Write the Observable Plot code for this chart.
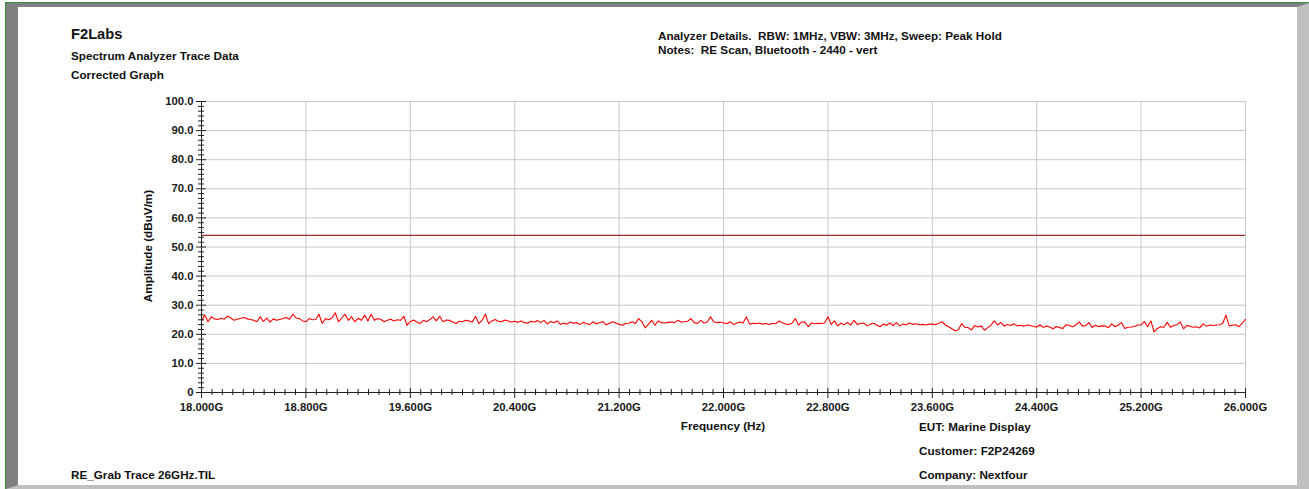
<!DOCTYPE html>
<html>
<head>
<meta charset="utf-8">
<script src="https://cdn.jsdelivr.net/npm/d3@7"></script>
<script src="https://cdn.jsdelivr.net/npm/@observablehq/plot@0.6"></script>
<style>
  html, body { margin: 0; padding: 0; background: #fff; }
  body { width: 1309px; height: 489px; overflow: hidden; position: relative; font-family: Arial, "Liberation Sans", sans-serif; }
  #green { position: absolute; left: 5px; top: 2px; width: 1304px; height: 487px; box-sizing: border-box; border-top: 1px solid #3d8b3d; border-left: 1px solid #3d8b3d; }
  #frame { position: absolute; left: 6px; top: 3px; width: 1303px; height: 486px; box-sizing: border-box; border-style: solid; border-width: 4px 12px 4px 12px; border-color: #808080 #c0c0c0 #c0c0c0 #808080; }
  .t { position: absolute; font-weight: bold; font-size: 11.7px; line-height: 1; white-space: pre; color: #111; }
  #chart svg { position: absolute; left: 0; top: 0; }
</style>
</head>
<body>
<div id="green"></div>
<div id="frame"></div>
<div id="chart"></div>
<div class="t" style="left:71px; top:27px; font-size:14.7px;">F2Labs</div>
<div class="t" style="left:71px; top:50px;">Spectrum Analyzer Trace Data</div>
<div class="t" style="left:71px; top:69px;">Corrected Graph</div>
<div class="t" style="left:658px; top:30px;">Analyzer Details.  RBW: 1MHz, VBW: 3MHz, Sweep: Peak Hold</div>
<div class="t" style="left:658px; top:44px;">Notes:  RE Scan, Bluetooth - 2440 - vert</div>
<div class="t" style="left:723px; top:420px; transform:translateX(-50%);">Frequency (Hz)</div>
<div class="t" style="left:148px; top:246px; transform:translate(-50%,-50%) rotate(-90deg);">Amplitude (dBuV/m)</div>
<div class="t" style="left:919px; top:421px;">EUT: Marine Display</div>
<div class="t" style="left:919px; top:445px;">Customer: F2P24269</div>
<div class="t" style="left:919px; top:469px;">Company: Nextfour</div>
<div class="t" style="left:71px; top:469px;">RE_Grab Trace 26GHz.TIL</div>
<script>
// Frequency grid (GHz): start / step of the analyzer sweep samples
const freqStart = 18.0;
const freqStep = 0.025;

// Peak-hold trace amplitude (dBuV/m)
const traceValues = [
  24.6, 26.6, 24.3, 26.0, 25.3, 25.1, 25.5, 25.2, 26.2, 25.6, 24.8, 25.2, 25.5, 25.8, 25.3, 25.1,
  24.8, 24.3, 26.0, 24.4, 25.6, 24.2, 25.3, 24.8, 25.1, 25.4, 25.8, 25.2, 26.9, 25.6, 25.4, 24.6,
  24.3, 25.4, 25.0, 25.1, 26.9, 23.7, 25.4, 25.0, 25.6, 27.4, 24.3, 25.6, 26.9, 24.8, 26.0, 24.3,
  25.5, 24.8, 26.6, 24.6, 26.9, 24.8, 25.4, 25.1, 24.3, 24.8, 25.2, 24.6, 25.0, 24.8, 26.2, 23.1,
  24.4, 24.9, 24.2, 23.7, 24.8, 24.3, 25.1, 26.0, 24.6, 26.2, 24.3, 24.9, 24.8, 24.2, 23.7, 24.5,
  24.3, 24.8, 24.6, 24.2, 26.2, 23.7, 24.8, 26.9, 23.7, 24.6, 25.1, 24.5, 24.3, 24.9, 24.6, 24.2,
  24.5, 24.1, 24.6, 24.0, 23.8, 24.5, 24.2, 24.7, 24.0, 24.8, 23.6, 24.4, 24.0, 24.6, 23.4, 23.9,
  23.5, 24.2, 23.8, 24.0, 23.4, 24.1, 23.7, 23.3, 24.3, 23.6, 24.0, 24.4, 23.2, 23.8, 24.3, 23.9,
  23.4, 23.1, 23.7, 23.8, 24.3, 23.7, 25.4, 24.3, 22.2, 23.5, 24.8, 23.1, 24.6, 24.0, 23.9, 24.1,
  24.2, 24.0, 24.8, 24.2, 24.3, 24.5, 25.4, 24.1, 23.7, 24.8, 23.9, 24.2, 26.0, 24.3, 24.0, 24.2,
  23.9, 23.6, 24.3, 23.4, 23.8, 24.2, 23.9, 26.0, 23.5, 23.8, 23.6, 23.9, 23.5, 23.7, 23.4, 23.8,
  23.6, 24.6, 24.0, 23.5, 23.4, 23.8, 25.4, 23.2, 24.3, 24.1, 22.6, 23.9, 23.6, 23.8, 23.7, 23.9,
  26.0, 23.4, 24.6, 22.9, 23.8, 23.3, 24.1, 23.2, 24.8, 23.4, 23.7, 23.9, 22.9, 23.5, 23.8, 23.2,
  22.6, 23.5, 23.1, 23.9, 23.0, 24.0, 22.9, 23.5, 23.3, 23.9, 23.4, 23.6, 23.3, 23.4, 23.2, 23.5,
  23.5, 23.3, 23.8, 24.3, 23.2, 22.6, 21.9, 21.2, 21.6, 23.7, 22.4, 22.3, 21.5, 23.0, 22.5, 22.9,
  21.4, 22.3, 23.1, 24.6, 23.2, 24.1, 22.8, 23.4, 23.0, 23.6, 22.9, 23.1, 22.8, 23.2, 23.0, 22.7,
  22.5, 23.3, 22.4, 22.8, 22.5, 21.9, 22.7, 22.3, 22.0, 23.3, 23.0, 22.6, 23.2, 24.3, 22.8, 23.0,
  24.0, 22.4, 23.1, 22.6, 22.9, 22.8, 22.3, 23.6, 22.6, 23.2, 24.0, 22.0, 22.4, 22.5, 22.7, 23.2,
  23.2, 24.4, 22.6, 24.6, 20.8, 22.0, 22.6, 22.4, 24.1, 22.4, 23.0, 23.3, 24.3, 21.9, 23.0, 22.8,
  22.4, 22.6, 22.2, 23.6, 22.8, 23.2, 23.0, 23.2, 23.3, 23.7, 26.6, 22.9, 23.1, 23.3, 22.6, 23.8,
  25.1
];

// Limit line (dBuV/m)
const limitValue = 54.0;

// Axis ticks
const xMajorTicks = [18.0, 18.8, 19.6, 20.4, 21.2, 22.0, 22.8, 23.6, 24.4, 25.2, 26.0];
const xMinorStep = 0.08;
const yMajorTicks = [0, 10, 20, 30, 40, 50, 60, 70, 80, 90, 100];
const yMinorPerMajor = 6;

const trace = traceValues.map((v, i) => ({freq: freqStart + i * freqStep, amp: v}));
const xMinorTicks = d3.range(0, 101).map(i => 18 + i * xMinorStep).filter((d, i) => i % 10 !== 0);
const yMinorTicks = [];
for (let m = 0; m < 100; m += 10) for (let k = 1; k < yMinorPerMajor; k++) yMinorTicks.push(m + k * 10 / yMinorPerMajor);

const tickColor = "#222";
const font = {fontSize: 11.3, fontWeight: "bold", fill: "#1a1a1a"};

const chart = Plot.plot({
  width: 1309,
  height: 489,
  marginLeft: 201,
  marginRight: 64,
  marginTop: 101,
  marginBottom: 97,
  x: {domain: [18, 26], axis: null},
  y: {domain: [0, 100], axis: null},
  style: {background: "transparent", fontFamily: "Arial, 'Liberation Sans', sans-serif", overflow: "visible"},
  marks: [
    Plot.gridX(xMajorTicks, {stroke: "#c8c8c8", strokeOpacity: 1, strokeWidth: 1}),
    Plot.gridY(yMajorTicks, {stroke: "#c8c8c8", strokeOpacity: 1, strokeWidth: 1}),
    Plot.ruleY([limitValue], {x1: 18, x2: 26, stroke: "#9e2b2b", strokeWidth: 1.4}),
    Plot.line(trace, {x: "freq", y: "amp", stroke: "#ff0000", strokeWidth: 1.1}),
    Plot.ruleX([18], {stroke: tickColor, strokeWidth: 1}),
    Plot.ruleY([0], {stroke: tickColor, strokeWidth: 1}),
    Plot.axisX(xMinorTicks, {tickSize: 6, dy: -3, tickFormat: () => "", label: null, stroke: tickColor}),
    Plot.axisX(xMajorTicks, {tickSize: 10, dy: -4, tickPadding: 4, tickFormat: d => d.toFixed(3) + "G", label: null, stroke: tickColor, ...font}),
    Plot.axisY(yMinorTicks, {tickSize: 6, dx: 3, tickFormat: () => "", label: null, stroke: tickColor}),
    Plot.axisY(yMajorTicks, {tickSize: 10, dx: 5, tickPadding: 3, tickFormat: d => d === 0 ? "0" : d.toFixed(1), label: null, stroke: tickColor, ...font})
  ]
});
document.getElementById("chart").appendChild(chart);
</script>
</body>
</html>
